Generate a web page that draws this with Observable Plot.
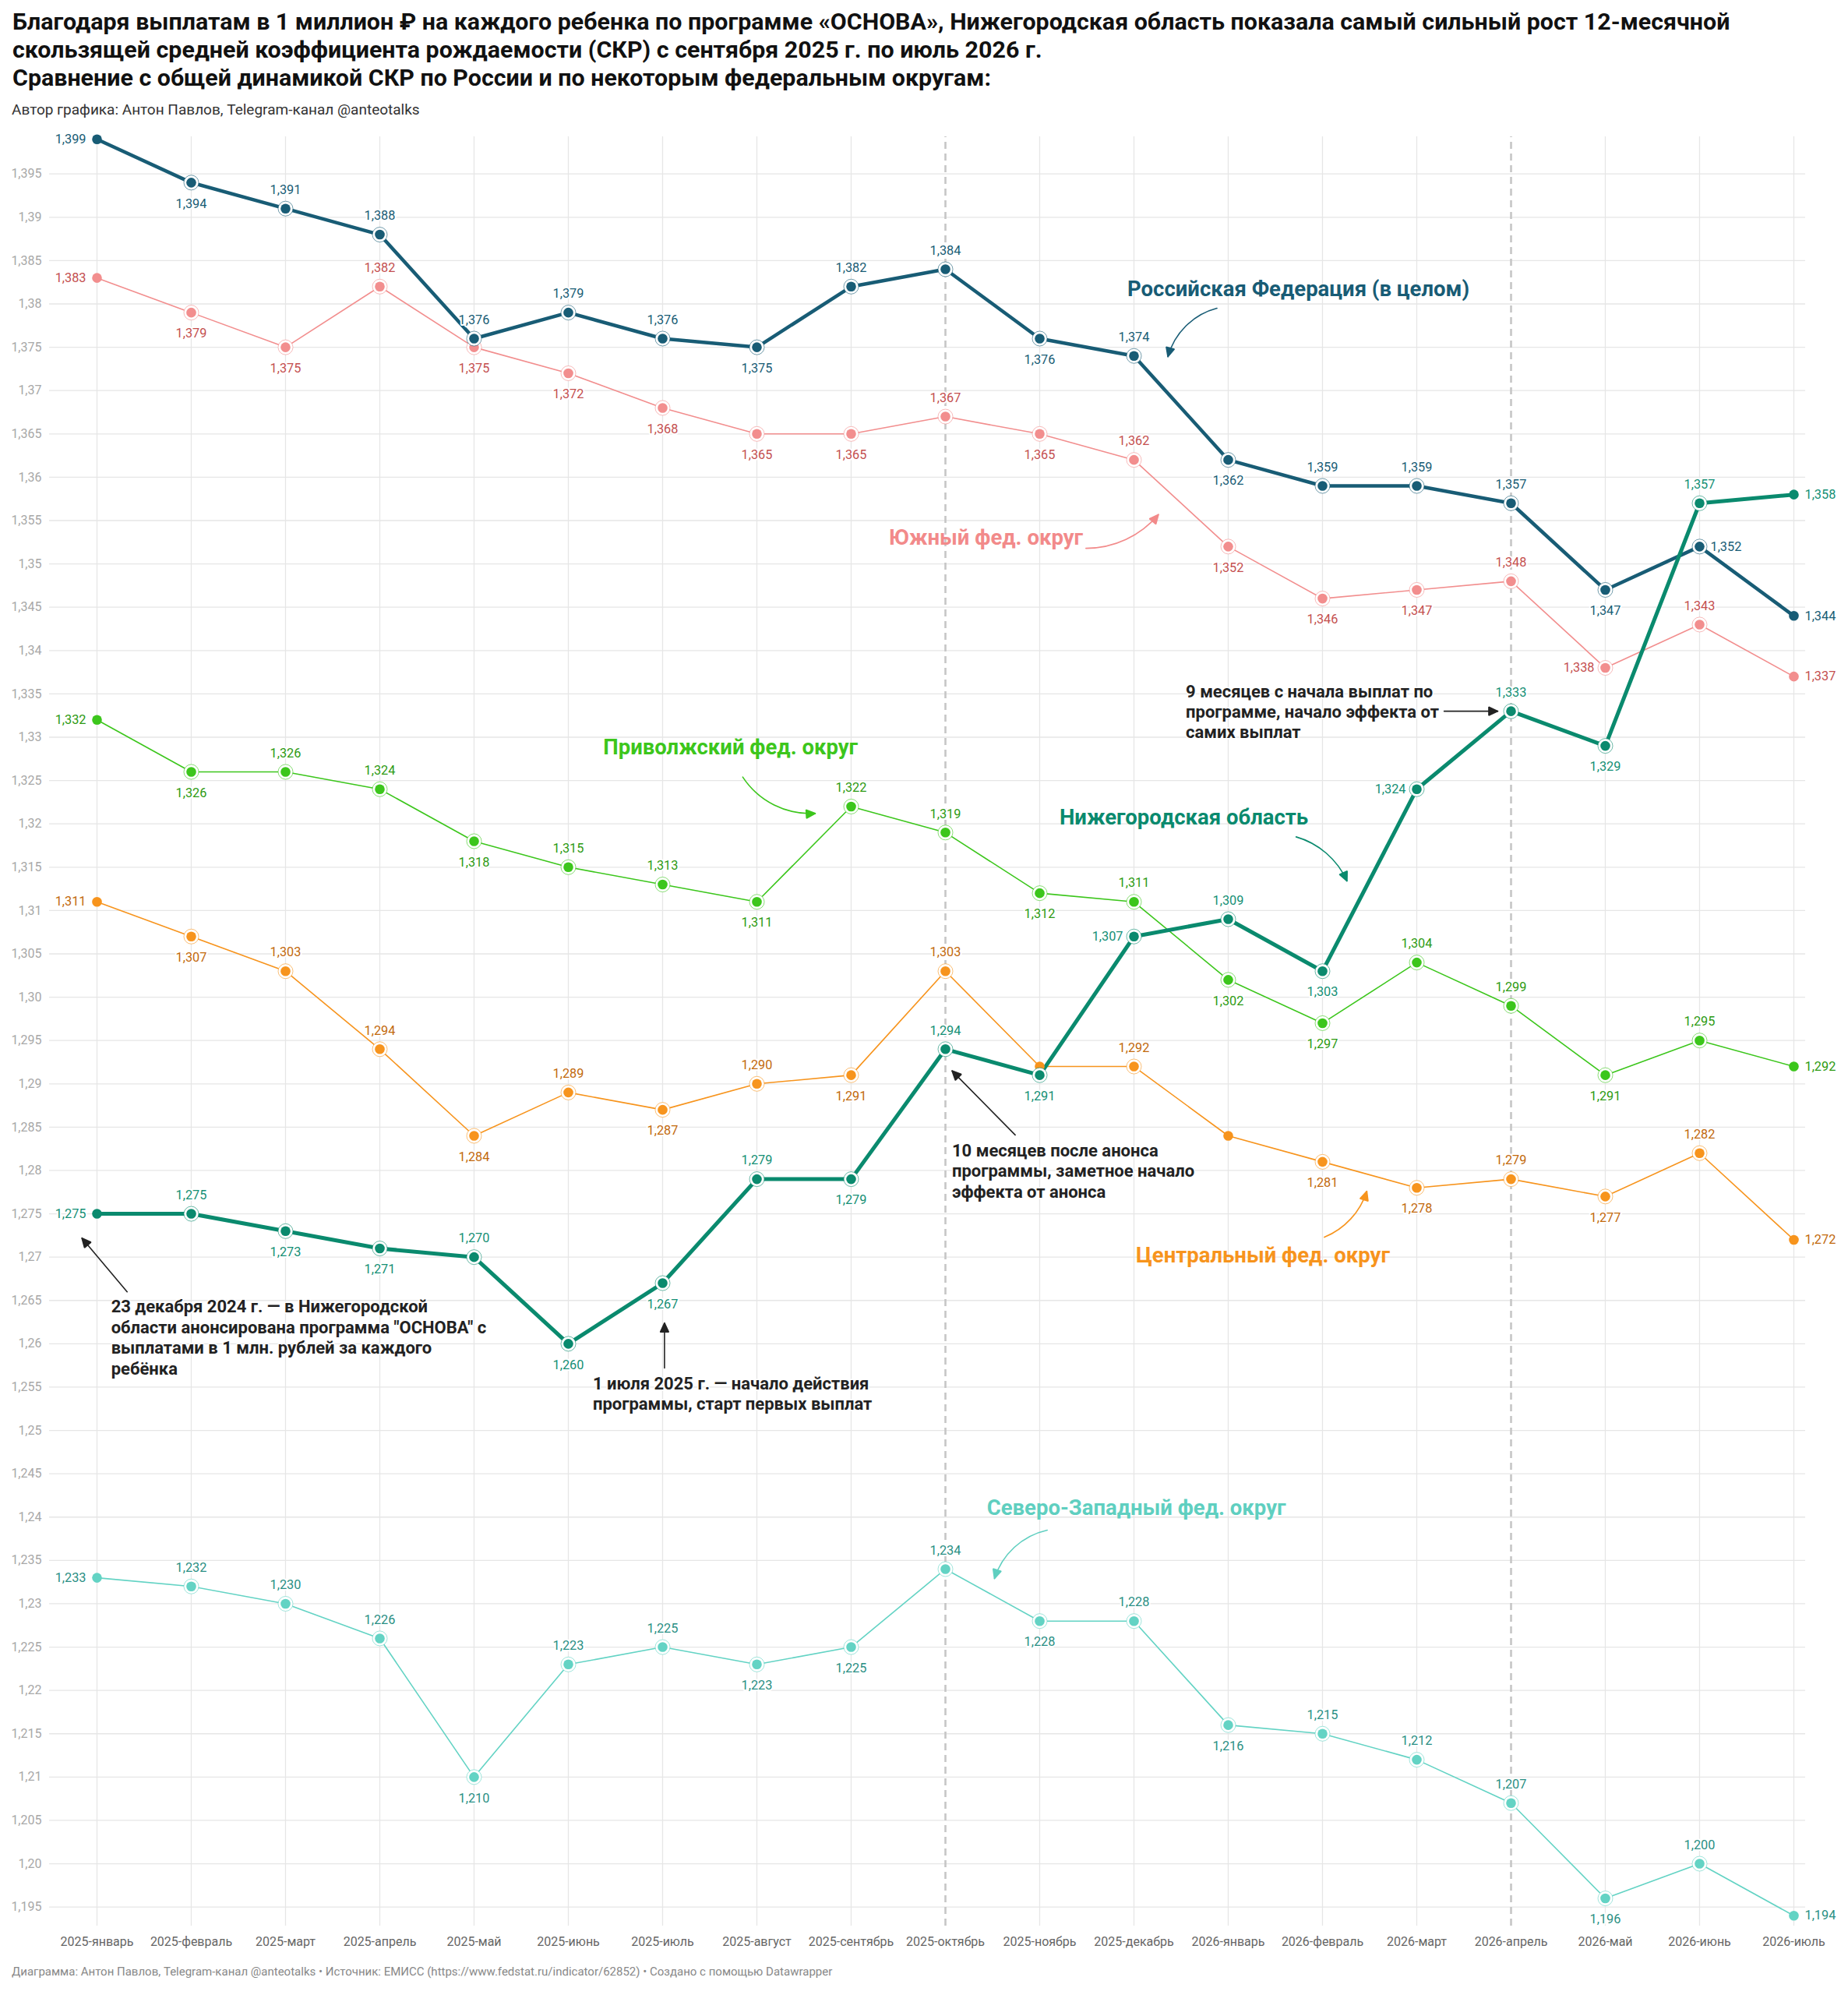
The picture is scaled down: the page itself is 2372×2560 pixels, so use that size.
<!DOCTYPE html>
<html>
<head>
<meta charset="utf-8">
<script src="https://cdn.jsdelivr.net/npm/d3@7"></script>
<script src="https://cdn.jsdelivr.net/npm/@observablehq/plot@0.6"></script>
<style>
  body { margin: 0; background: #fff; font-family: Roboto, "Noto Sans", sans-serif; width: 2372px; }
  #title { padding: 10px 16px 0; font-size: 30.4px; font-weight: 700; line-height: 36px; color: #111; white-space: nowrap; }
  #sub { margin-top: 12px; padding-left: 15px; font-size: 19px; line-height: 22px; color: #333; }
  #foot { margin-top: 8px; padding-left: 15px; font-size: 15px; line-height: 20px; color: #888; }
  svg { display: block; }
</style>
</head>
<body>
<div id="title">Благодаря выплатам в 1 миллион ₽ на каждого ребенка по программе «ОСНОВА», Нижегородская область показала самый сильный рост 12-месячной<br>скользящей средней коэффициента рождаемости (СКР) с сентября 2025 г. по июль 2026 г.<br>Сравнение с общей динамикой СКР по России и по некоторым федеральным округам:</div>
<div id="sub">Автор графика: Антон Павлов, Telegram-канал @anteotalks</div>
<div id="chart"></div>
<div id="foot">Диаграмма: Антон Павлов, Telegram-канал @anteotalks • Источник: ЕМИСС (https://www.fedstat.ru/indicator/62852) • Создано с помощью Datawrapper</div>
<script>
const months = ["2025-январь","2025-февраль","2025-март","2025-апрель","2025-май","2025-июнь","2025-июль","2025-август","2025-сентябрь","2025-октябрь","2025-ноябрь","2025-декабрь","2026-январь","2026-февраль","2026-март","2026-апрель","2026-май","2026-июнь","2026-июль"];

const rf   = [1.399,1.394,1.391,1.388,1.376,1.379,1.376,1.375,1.382,1.384,1.376,1.374,1.362,1.359,1.359,1.357,1.347,1.352,1.344];
const yufo = [1.383,1.379,1.375,1.382,1.375,1.372,1.368,1.365,1.365,1.367,1.365,1.362,1.352,1.346,1.347,1.348,1.338,1.343,1.337];
const pfo  = [1.332,1.326,1.326,1.324,1.318,1.315,1.313,1.311,1.322,1.319,1.312,1.311,1.302,1.297,1.304,1.299,1.291,1.295,1.292];
const cfo  = [1.311,1.307,1.303,1.294,1.284,1.289,1.287,1.290,1.291,1.303,1.292,1.292,1.284,1.281,1.278,1.279,1.277,1.282,1.272];
const nn   = [1.275,1.275,1.273,1.271,1.270,1.260,1.267,1.279,1.279,1.294,1.291,1.307,1.309,1.303,1.324,1.333,1.329,1.357,1.358];
const szfo = [1.233,1.232,1.230,1.226,1.210,1.223,1.225,1.223,1.225,1.234,1.228,1.228,1.216,1.215,1.212,1.207,1.196,1.200,1.194];

const yTicks = [1.195,1.2,1.205,1.21,1.215,1.22,1.225,1.23,1.235,1.24,1.245,1.25,1.255,1.26,1.265,1.27,1.275,1.28,1.285,1.29,1.295,1.3,1.305,1.31,1.315,1.32,1.325,1.33,1.335,1.34,1.345,1.35,1.355,1.36,1.365,1.37,1.375,1.38,1.385,1.39,1.395];
const markerMonths = [9, 15];

// label placement per point: a=above, b=below, l=left, r=right, n=none
const rfPos   = "l b a a a a a b a a b a b a a a b r r".split(" ");
const yufoPos = "l b b a b b b b b a b a b b b a l a r".split(" ");
const pfoPos  = "l b a a b a a b a a b a b b a a b a r".split(" ");
const cfoPos  = "l b a a b a b a b a n a n b b a b a r".split(" ");
const nnPos   = "l a b b a b b a b a b l a b l a b a r".split(" ");
const szfoPos = "l a a a b a a b b a b a b a a a b a r".split(" ");

const series = [
  {name: "Северо-Западный фед. округ", values: szfo, pos: szfoPos, line: "#63d3c4", tc: "#2a8f84", w: 1.6},
  {name: "Центральный фед. округ", values: cfo, pos: cfoPos, line: "#f7941d", tc: "#c2690c", w: 1.6},
  {name: "Приволжский фед. округ", values: pfo, pos: pfoPos, line: "#3cc61c", tc: "#2d9a12", w: 1.6},
  {name: "Южный фед. округ", values: yufo, pos: yufoPos, line: "#f28e8e", tc: "#c44f4f", w: 1.6},
  {name: "Российская Федерация (в целом)", values: rf, pos: rfPos, line: "#185c75", tc: "#185c75", w: 4.5},
  {name: "Нижегородская область", values: nn, pos: nnPos, line: "#0a8a6e", tc: "#148f75", w: 5}
];

const rows = series.flatMap(s => s.values.map((v, i) => ({s: s.name, i, v, pos: s.pos[i], line: s.line, tc: s.tc, last: i === 0 || i === s.values.length - 1})));

const fmtTick = v => { const s3 = v.toFixed(3); return (s3.endsWith("0") ? v.toFixed(2) : s3).replace(".", ","); };
const fmtVal = v => v.toFixed(3).replace(".", ",");

// series name labels (position in data coordinates: month index, value)
const seriesLabels = [
  {text: "Российская Федерация (в целом)", x: 10.93, y: 1.3817, c: "#185c75"},
  {text: "Южный фед. округ", x: 8.40, y: 1.3530, c: "#f28a8a"},
  {text: "Приволжский фед. округ", x: 5.37, y: 1.3288, c: "#3cc61c"},
  {text: "Нижегородская область", x: 10.21, y: 1.3207, c: "#0a8a6e"},
  {text: "Центральный фед. округ", x: 11.02, y: 1.2702, c: "#f7941d"},
  {text: "Северо-Западный фед. округ", x: 9.44, y: 1.2410, c: "#5fcfc0"}
];
const seriesArrows = [
  {x1: 11.88, y1: 1.3795, x2: 11.36, y2: 1.3739, c: "#185c75", bend: -30},
  {x1: 10.49, y1: 1.3518, x2: 11.26, y2: 1.3557, c: "#f28a8a", bend: -25},
  {x1: 6.85, y1: 1.3254, x2: 7.62, y2: 1.3212, c: "#3cc61c", bend: -30},
  {x1: 12.72, y1: 1.3185, x2: 13.26, y2: 1.3134, c: "#0a8a6e", bend: 25},
  {x1: 13.02, y1: 1.2723, x2: 13.47, y2: 1.2776, c: "#f7941d", bend: -25},
  {x1: 10.08, y1: 1.2385, x2: 9.52, y2: 1.2329, c: "#5fcfc0", bend: -30}
];
const notes = [
  {text: "9 месяцев с начала выплат по\nпрограмме, начало эффекта от\nсамих выплат", x: 11.55, y: 1.3330},
  {text: "10 месяцев после анонса\nпрограммы, заметное начало\nэффекта от анонса", x: 9.07, y: 1.2800},
  {text: "23 декабря 2024 г. — в Нижегородской\nобласти анонсирована программа \"ОСНОВА\" с\nвыплатами в 1 млн. рублей за каждого\nребёнка", x: 0.15, y: 1.2608},
  {text: "1 июля 2025 г. — начало действия\nпрограммы, старт первых выплат", x: 5.26, y: 1.2543}
];
const noteArrows = [
  {x1: 14.29, y1: 1.3330, x2: 14.86, y2: 1.3330, bend: 0},
  {x1: 9.74, y1: 1.2841, x2: 9.07, y2: 1.2915, bend: 0},
  {x1: 0.32, y1: 1.2660, x2: -0.16, y2: 1.2722, bend: 0},
  {x1: 6.02, y1: 1.2572, x2: 6.02, y2: 1.2624, bend: 0}
];

const idx = months.map((m, i) => i);
const labelMark = (code, opts) => Plot.text(rows.filter(d => d.pos === code), {
  x: "i", y: "v", text: d => fmtVal(d.v), fill: "tc", stroke: "white", strokeWidth: 4, paintOrder: "stroke",
  fontSize: 16.3, ...opts
});

const marks = [
  Plot.ruleY(yTicks, {y: d => d, x1: -0.504, x2: 18.124, stroke: "#e6e6e6", strokeWidth: 1.3}),
  Plot.ruleX(idx.filter(i => !markerMonths.includes(i)), {x: d => d, y1: 1.1928, y2: 1.3993, stroke: "#e6e6e6", strokeWidth: 1.3}),
  Plot.ruleX(markerMonths, {x: d => d, y1: 1.1928, y2: 1.3993, stroke: "#c6c6c6", strokeWidth: 2.6, strokeDasharray: "9,6"}),
  Plot.axisY(yTicks, {tickFormat: fmtTick, tickSize: 0, tickPadding: 71, fontSize: 16, color: "#a8a8a8"}),
  Plot.axisX(idx, {tickFormat: i => months[i], tickSize: 0, tickPadding: 5, fontSize: 16, color: "#666"}),
  ...series.map(s => Plot.line(rows.filter(d => d.s === s.name), {x: "i", y: "v", stroke: s.line, strokeWidth: s.w, strokeLinejoin: "round"})),
  ...series.flatMap(s => [
    Plot.dot(rows.filter(d => d.s === s.name && !d.last && d.pos !== "n"), {x: "i", y: "v", r: 9.5, fill: "white", stroke: s.line, strokeWidth: 1, strokeOpacity: 0.6}),
    Plot.dot(rows.filter(d => d.s === s.name), {x: "i", y: "v", r: 6.3, fill: s.line})
  ]),
  labelMark("a", {dy: -24}),
  labelMark("b", {dy: 27}),
  labelMark("l", {dx: -14, textAnchor: "end"}),
  labelMark("r", {dx: 14, textAnchor: "start"}),
  ...seriesArrows.map(a => Plot.arrow([a], {x1: "x1", y1: "y1", x2: "x2", y2: "y2", stroke: a.c, strokeWidth: 1.6, bend: a.bend, headLength: 12, headAngle: 50})),
  Plot.text(seriesLabels, {x: "x", y: "y", text: "text", fill: "c", textAnchor: "start", fontSize: 27.5, fontWeight: "bold"}),
  ...noteArrows.map(a => Plot.arrow([a], {x1: "x1", y1: "y1", x2: "x2", y2: "y2", stroke: "#222", strokeWidth: 1.6, bend: a.bend, headLength: 12, headAngle: 50})),
  Plot.text(notes, {x: "x", y: "y", text: "text", fill: "#222", textAnchor: "start", lineAnchor: "middle", lineHeight: 1.2, fontSize: 22, fontWeight: "bold", stroke: "white", strokeWidth: 3, paintOrder: "stroke"})
];

const chart = Plot.plot({
  width: 2372,
  height: 2360,
  marginLeft: 124,
  marginRight: 70,
  marginTop: 4,
  marginBottom: 32,
  style: {fontFamily: "Roboto, 'Noto Sans', sans-serif", fontSize: "16px", background: "white"},
  x: {type: "linear", domain: [0, 18]},
  y: {domain: [1.192, 1.401]},
  color: {type: "identity"},
  marks
});

// turn the open arrow heads into filled triangles
chart.querySelectorAll('g[aria-label="arrow"] path').forEach(p => {
  const d = p.getAttribute("d") || "";
  const k = d.lastIndexOf("M");
  if (k <= 0) return;
  const g = p.parentNode;
  const col = p.getAttribute("stroke") || g.getAttribute("stroke") || "#222";
  p.setAttribute("d", d.slice(0, k));
  const head = document.createElementNS("http://www.w3.org/2000/svg", "path");
  head.setAttribute("d", d.slice(k) + "Z");
  head.setAttribute("fill", col);
  head.setAttribute("stroke", col);
  head.setAttribute("stroke-linejoin", "miter");
  g.appendChild(head);
});

document.getElementById("chart").appendChild(chart);
</script>
</body>
</html>
